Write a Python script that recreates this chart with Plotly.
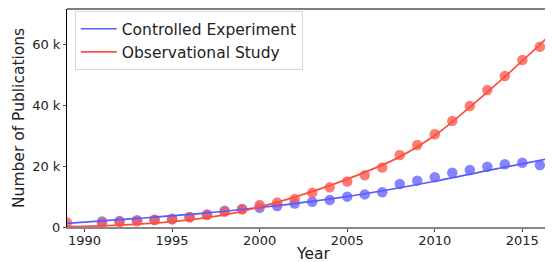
import plotly.graph_objects as go

# Data
years_obs = [1989, 1991, 1992, 1993, 1994, 1995, 1996, 1997, 1998, 1999, 2000, 2001, 2002, 2003,
             2004, 2005, 2006, 2007, 2008, 2009, 2010, 2011, 2012, 2013, 2014, 2015, 2016]
obs_values = [1500, 1300, 1600, 1900, 2300, 2500, 3200, 3900, 5000, 5800, 7200, 8000, 9200, 11200,
              13000, 14900, 17000, 19500, 23600, 26900, 30400, 34800, 39700, 44900, 49500, 54800, 59100]

years_ctrl = [1991, 1992, 1993, 1994, 1995, 1996, 1997, 1998, 1999, 2000, 2001, 2002, 2003,
              2004, 2005, 2006, 2007, 2008, 2009, 2010, 2011, 2012, 2013, 2014, 2015, 2016]
ctrl_values = [1800, 2000, 2200, 2400, 2700, 3300, 4100, 5300, 5900, 6300, 6900, 7700, 8300,
               8850, 9950, 10700, 11400, 14100, 15200, 16300, 17800, 18700, 19800, 20600, 21100, 20300]

# Fitted trend lines (read at selected years)
fit_years_obs = [1989, 1992, 1995, 1998, 2000, 2002, 2005, 2008, 2010, 2012, 2014, 2016, 2016.75]
fit_obs = [100, 600, 1750, 4000, 6600, 9800, 15700, 23000, 30000, 39300, 49300, 59800, 64000]

fit_years_ctrl = [1989, 1993, 1997, 2000, 2003, 2006, 2010, 2013, 2016.75]
fit_ctrl = [1200, 2800, 4600, 6400, 8400, 10900, 15000, 18500, 22700]

y_tickvals = [0, 20000, 40000, 60000]
y_ticktext = ["0", "20 k", "40 k", "60 k"]
x_tickvals = [1990, 1995, 2000, 2005, 2010, 2015]

BLUE_LINE = "rgb(90,90,255)"
RED_LINE = "rgb(250,80,65)"
BLUE_PT = "rgba(110,110,255,0.85)"
RED_PT = "rgba(255,90,80,0.8)"

fig = go.Figure()
fig.add_trace(go.Scatter(x=years_ctrl, y=ctrl_values, mode="markers",
                         marker=dict(size=10.5, color=BLUE_PT), showlegend=False))
fig.add_trace(go.Scatter(x=years_obs, y=obs_values, mode="markers",
                         marker=dict(size=10.5, color=RED_PT), showlegend=False))
fig.add_trace(go.Scatter(x=fit_years_ctrl, y=fit_ctrl, mode="lines", line_shape="spline",
                         line=dict(color=BLUE_LINE, width=1.7), name="Controlled Experiment"))
fig.add_trace(go.Scatter(x=fit_years_obs, y=fit_obs, mode="lines", line_shape="spline",
                         line=dict(color=RED_LINE, width=1.7), name="Observational Study"))

font_family = "DejaVu Sans"
# The page body has an 8px default margin, so the figure is sized/offset to fill 553x262
fig.update_layout(
    width=545, height=254,
    margin=dict(l=59, r=0, t=1, b=35, autoexpand=False),
    paper_bgcolor="white", plot_bgcolor="white",
    font=dict(family=font_family, size=13, color="#222"),
    legend=dict(x=0.016, y=0.99, xanchor="left", yanchor="top",
                bgcolor="white", bordercolor="#d8d8d8", borderwidth=1,
                font=dict(size=15.5, color="#222"), itemwidth=36, tracegroupgap=0),
    xaxis=dict(range=[1989, 2016.75], tickvals=x_tickvals, showgrid=False, zeroline=False,
               showline=True, linecolor="#888", linewidth=2, ticks="outside", ticklen=3,
               tickcolor="#444", tickfont=dict(size=13), automargin=False,
               ticklabelstandoff=-3),
    yaxis=dict(range=[0, 71500], tickvals=y_tickvals, ticktext=y_ticktext, showgrid=False,
               zeroline=False, showline=True, linecolor="black", linewidth=1, ticks="outside",
               ticklen=3, tickcolor="#444", tickfont=dict(size=13), automargin=False),
    shapes=[dict(type="line", xref="paper", yref="paper", x0=0, x1=1, y0=1, y1=1,
                 line=dict(color="black", width=1.2))],
    annotations=[
        dict(text="Year", xref="paper", yref="paper", x=0.5, y=0, xanchor="center",
             yanchor="middle", xshift=3, yshift=-27, showarrow=False, borderpad=0,
             font=dict(size=15.5, color="#222")),
        dict(text="Number of Publications", xref="paper", yref="paper", x=0, y=0.5,
             xanchor="center", yanchor="middle", xshift=-48, textangle=-90, showarrow=False,
             borderpad=0, font=dict(size=15.5, color="#222")),
    ],
)

fig.write_html("out.html")
